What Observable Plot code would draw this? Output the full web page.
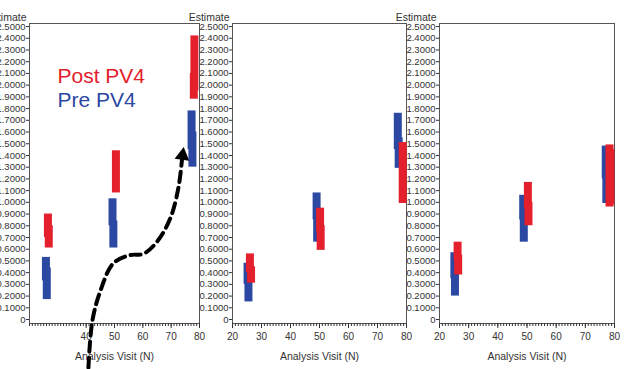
<!DOCTYPE html>
<html>
<head>
<meta charset="utf-8">
<script src="https://cdn.jsdelivr.net/npm/d3@7"></script>
<script src="https://cdn.jsdelivr.net/npm/@observablehq/plot@0.6"></script>
<style>
  html, body { margin: 0; padding: 0; background: #fff; }
  body { width: 627px; height: 369px; position: relative; overflow: hidden; font-family: "Liberation Sans", Arial, sans-serif; }
  .panel { position: absolute; top: 0; }
</style>
</head>
<body>
<script>
// ---- data ----
const legendLabels = ["Post PV4", "Pre PV4"];
const colorPost = "#e3202b";
const colorPre = "#2b48a2";
const yTicks = [0, 0.1, 0.2, 0.3, 0.4, 0.5, 0.6, 0.7, 0.8, 0.9, 1.0, 1.1, 1.2, 1.3, 1.4, 1.5, 1.6, 1.7, 1.8, 1.9, 2.0, 2.1, 2.2, 2.3, 2.4, 2.5];
const xTickLabelsFull = [20, 30, 40, 50, 60, 70, 80];
const xTickLabelsPanel1 = [40, 50, 60, 70, 80];
const yLabel = "Estimate";
const xLabel = "Analysis Visit (N)";

// bar pieces: [visit, low, high]
const panel1Pre = [[25.8, 0.33, 0.53], [26.1, 0.17, 0.44], [49.3, 0.80, 1.03], [49.6, 0.61, 0.84], [77.2, 1.45, 1.78], [77.5, 1.30, 1.60]];
const panel1Post = [[26.5, 0.70, 0.90], [26.8, 0.61, 0.80], [50.5, 1.08, 1.44], [78.2, 1.95, 2.42], [78.0, 1.88, 2.10]];
const panel2Pre = [[25.2, 0.30, 0.48], [25.5, 0.15, 0.40], [49.0, 0.85, 1.08], [49.2, 0.66, 0.90], [77.0, 1.45, 1.76], [77.3, 1.29, 1.55]];
const panel2Post = [[26.0, 0.40, 0.56], [26.4, 0.31, 0.45], [50.2, 0.75, 0.95], [50.4, 0.59, 0.80], [78.7, 0.99, 1.51]];
const panel3Pre = [[25.1, 0.35, 0.57], [25.3, 0.20, 0.45], [48.7, 0.85, 1.06], [48.9, 0.66, 0.90], [77.0, 1.20, 1.48], [77.2, 0.99, 1.30]];
const panel3Post = [[26.2, 0.50, 0.66], [26.4, 0.38, 0.55], [50.3, 0.95, 1.17], [50.5, 0.80, 1.00], [78.3, 0.96, 1.49], [78.6, 0.98, 1.45]];

// annotation arrow path in panel 1 data units: [visit, estimate]
const arrowPath = [[40.8, -0.41], [42.2, -0.01], [45.1, 0.25], [49.6, 0.48], [55.6, 0.55], [60.2, 0.56], [65.2, 0.67], [69.8, 0.87], [72.6, 1.13], [73.8, 1.36]];
const arrowTip = [[74.0, 1.40]];

// ---- layout ----
const panels = [
  {left: -21, width: 225, frameW: 170, pre: panel1Pre, post: panel1Post, xt: xTickLabelsPanel1, legend: true, arrow: true},
  {left: 182, width: 229, frameW: 174, pre: panel2Pre, post: panel2Post, xt: xTickLabelsFull},
  {left: 389, width: 238, frameW: 175, pre: panel3Pre, post: panel3Post, xt: xTickLabelsFull}
];

const fmt = d => d === 0 ? "0" : d3.format(".4f")(d);
const xMinor = d3.range(20, 81, 1);

for (const p of panels) {
  const marks = [
    Plot.frame({stroke: "#555"}),
    Plot.axisY({ticks: yTicks, tickFormat: fmt, tickSize: 3, tickPadding: 1, label: null, fontSize: 9.5}),
    Plot.axisX({ticks: xMinor, tickSize: 3, tickFormat: () => "", label: null}),
    Plot.axisX({ticks: p.xt, tickSize: 5, tickPadding: 4, label: null, fontSize: 10}),
    Plot.text([yLabel], {frameAnchor: "top-left", dx: -3, dy: -10, textAnchor: "end", fontSize: 10.5}),
    Plot.text([xLabel], {frameAnchor: "bottom", dy: 36, fontSize: 10.5}),
    Plot.ruleX(p.pre, {x: d => d[0], y1: d => d[1], y2: d => d[2], stroke: colorPre, strokeWidth: 8}),
    Plot.ruleX(p.post, {x: d => d[0], y1: d => d[1], y2: d => d[2], stroke: colorPost, strokeWidth: 8})
  ];
  if (p.legend) {
    marks.push(Plot.text([legendLabels[0]], {frameAnchor: "top-left", dx: 28, dy: 44.5, textAnchor: "start", fontSize: 21, fill: colorPost}));
    marks.push(Plot.text([legendLabels[1]], {frameAnchor: "top-left", dx: 28, dy: 68.5, textAnchor: "start", fontSize: 21, fill: colorPre}));
  }
  if (p.arrow) {
    marks.push(Plot.line(arrowPath, {x: d => d[0], y: d => d[1], curve: "catmull-rom", stroke: "#000", strokeWidth: 4, strokeDasharray: "10,6"}));
    marks.push(Plot.dot(arrowTip, {x: d => d[0], y: d => d[1], symbol: "triangle", r: 5.5, fill: "#000", stroke: "none", rotate: 8}));
  }
  const chart = Plot.plot({
    width: p.width,
    height: 369,
    marginLeft: 50,
    marginRight: p.width - 50 - p.frameW,
    marginTop: 23,
    marginBottom: 46,
    x: {domain: [20, 80]},
    y: {domain: [-0.034, 2.526]},
    style: {fontFamily: "'Liberation Sans', Arial, sans-serif", fontSize: "10px", color: "#333", background: "transparent", overflow: "visible"},
    marks
  });
  chart.classList.add("panel");
  chart.style.left = p.left + "px";
  document.body.appendChild(chart);
}
</script>
</body>
</html>
